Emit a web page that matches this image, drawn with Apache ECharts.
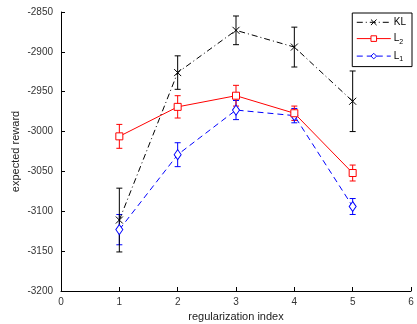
<!DOCTYPE html>
<html>
<head>
<meta charset="utf-8">
<script src="https://cdn.jsdelivr.net/npm/echarts@6/dist/echarts.min.js"></script>
<style>
  html, body { margin: 0; padding: 0; background: #fff; }
  #chart { width: 417px; height: 324px; }
</style>
</head>
<body>
<div id="chart"></div>
<script>
// regularization index
const xs = [1, 2, 3, 4, 5];

// expected reward means and error half-widths
const klMean = [-3111, -2926, -2873, -2894, -2962];
const klErr = [40, 21, 18, 25, 38];
const l2Mean = [-3006, -2969, -2955, -2977, -3052];
const l2Err = [15, 14, 13, 9, 10];
const l1Mean = [-3123, -3029, -2973, -2980, -3094];
const l1Err = [19, 15, 12, 9, 10];

const font = 'Liberation Sans, Arial, sans-serif';

function pairs(means) {
	return xs.map((x, i) => [x, means[i]]);
}

function errorSeries(means, errs, color) {
	return {
		type: 'custom',
		silent: true,
		z: 1,
		data: xs.map((x, i) => [x, means[i] - errs[i], means[i] + errs[i]]),
		renderItem: (params, api) => {
			const lo = api.coord([api.value(0), api.value(1)]);
			const hi = api.coord([api.value(0), api.value(2)]);
			const w = 3;
			const style = { stroke: color, lineWidth: 1 };
			return {
				type: 'group',
				children: [
					{ type: 'line', shape: { x1: lo[0], y1: lo[1], x2: hi[0], y2: hi[1] }, style },
					{ type: 'line', shape: { x1: lo[0] - w, y1: lo[1], x2: lo[0] + w, y2: lo[1] }, style },
					{ type: 'line', shape: { x1: hi[0] - w, y1: hi[1], x2: hi[0] + w, y2: hi[1] }, style },
				],
			};
		},
	};
}

const chart = echarts.init(document.getElementById('chart'));

const option = {
	animation: false,
	textStyle: { fontFamily: font },
	grid: { left: 61, right: 6, top: 12, bottom: 33, outerBoundsMode: 'none' },
	legend: {
		data: ['KL', 'L2', 'L1'],
		orient: 'vertical',
		right: 5,
		top: 13,
		itemWidth: 34,
		itemHeight: 7,
		itemGap: 6,
		padding: [4, 6, 4, 4],
		borderColor: '#000',
		borderWidth: 1,
		backgroundColor: '#fff',
		lineStyle: { width: 1 },
		itemStyle: { borderWidth: 1 },
		textStyle: {
			fontSize: 10,
			color: '#000',
			padding: [0, 0, 0, -2],
			rich: {
				s: { fontSize: 7, verticalAlign: 'bottom', padding: [6, 0, 0, 0] },
			},
		},
		formatter: (name) => (name === 'KL' ? 'KL' : 'L{s|' + name.slice(1) + '}'),
	},
	xAxis: {
		type: 'value',
		min: 0,
		max: 6,
		interval: 1,
		name: 'regularization index',
		nameLocation: 'middle',
		nameGap: 20,
		nameMoveOverlap: false,
		nameTextStyle: { fontSize: 11, color: '#222' },
		axisLine: { lineStyle: { color: '#000', width: 1 } },
		axisTick: { inside: true, length: 4, lineStyle: { color: '#000' } },
		axisLabel: { fontSize: 10, color: '#333', margin: 6 },
		splitLine: { show: false },
	},
	yAxis: {
		type: 'value',
		min: -3200,
		max: -2850,
		interval: 50,
		name: 'expected reward',
		nameLocation: 'middle',
		nameGap: 40,
		nameMoveOverlap: false,
		nameTextStyle: { fontSize: 11, color: '#222' },
		axisLine: { show: true, lineStyle: { color: '#000', width: 1 } },
		axisTick: { show: true, inside: true, length: 4, lineStyle: { color: '#000' } },
		axisLabel: { fontSize: 10, color: '#333', margin: 8, formatter: (v) => String(v) },
		splitLine: { show: false },
	},
	series: [
		errorSeries(l1Mean, l1Err, '#0000ff'),
		errorSeries(l2Mean, l2Err, '#ff0000'),
		errorSeries(klMean, klErr, '#000000'),
		{
			name: 'L1',
			type: 'line',
			data: pairs(l1Mean),
			symbol: 'diamond',
			symbolSize: [7, 10],
			color: '#0000ff',
			lineStyle: { color: '#0000ff', width: 1, type: [6, 4] },
			itemStyle: { color: '#fff', borderColor: '#0000ff', borderWidth: 1 },
			z: 3,
		},
		{
			name: 'L2',
			type: 'line',
			data: pairs(l2Mean),
			symbol: 'rect',
			symbolSize: 7,
			color: '#ff0000',
			lineStyle: { color: '#ff0000', width: 1 },
			itemStyle: { color: '#fff', borderColor: '#ff0000', borderWidth: 1 },
			z: 3,
		},
		{
			name: 'KL',
			type: 'line',
			data: pairs(klMean),
			symbol: 'path://M0,0L10,10M10,0L0,10',
			symbolSize: 7,
			color: '#000',
			lineStyle: { color: '#000', width: 1, type: [6, 3, 1, 3] },
			itemStyle: { color: 'none', borderColor: '#000', borderWidth: 1 },
			z: 4,
		},
	],
};

chart.setOption(option);
</script>
</body>
</html>
